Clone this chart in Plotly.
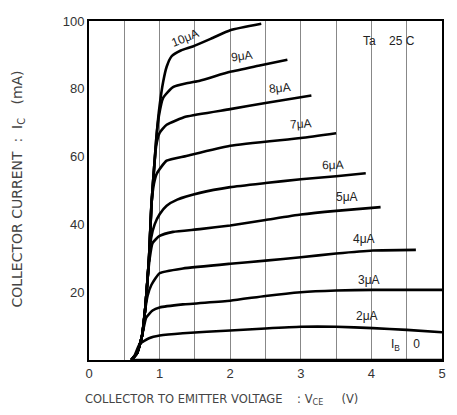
import plotly.graph_objects as go

# Base current labels
ib_labels = ["10μA", "9μA", "8μA", "7μA", "6μA", "5μA", "4μA", "3μA", "2μA"]

# Collector-emitter voltage (V) and collector current (mA) for each base current
vce_10 = [0.6, 0.68, 0.75, 0.8, 0.85, 0.885, 0.92, 0.956, 1.0, 1.05, 1.1, 1.17, 1.3, 1.47, 1.75, 2.0, 2.44]
ic_10 = [0, 2, 7, 16, 30, 46, 56, 66, 75, 82, 86.5, 89.6, 91.3, 92.5, 95, 97.3, 99.2]

vce_9 = [0.6, 0.68, 0.75, 0.8, 0.85, 0.885, 0.92, 0.956, 0.99, 1.05, 1.19, 1.4, 1.57, 2.0, 2.4, 2.81]
ic_9 = [0, 2, 7, 16, 30, 46, 56, 66, 72, 77.3, 80.5, 81.7, 82.4, 85, 86.8, 88.6]

vce_8 = [0.6, 0.68, 0.75, 0.8, 0.85, 0.885, 0.92, 0.95, 1.0, 1.1, 1.38, 2.0, 2.5, 3.15]
ic_8 = [0, 2, 7, 16, 30, 46, 56, 63, 67, 69.4, 71.8, 74, 75.8, 78]

vce_7 = [0.6, 0.68, 0.75, 0.8, 0.85, 0.885, 0.92, 0.96, 1.1, 1.38, 2.0, 3.0, 3.5]
ic_7 = [0, 2, 7, 16, 30, 46, 52, 55, 58.8, 60.2, 63.2, 65.5, 66.9]

vce_6 = [0.6, 0.68, 0.75, 0.8, 0.85, 0.88, 0.93, 1.0, 1.1, 1.25, 1.57, 2.0, 2.5, 3.0, 3.5, 3.92]
ic_6 = [0, 2, 7, 16, 30, 36, 40, 43, 45.5, 47.3, 49.3, 51, 52.2, 53.3, 54.2, 55.1]

vce_5 = [0.6, 0.68, 0.75, 0.8, 0.83, 0.86, 0.9, 1.0, 1.19, 1.57, 2.0, 2.5, 3.0, 3.5, 4.13]
ic_5 = [0, 2, 7, 16, 24, 30, 34.5, 36.6, 37.8, 38.6, 39.7, 41.3, 42.9, 44, 45.1]

vce_4 = [0.6, 0.68, 0.75, 0.79, 0.83, 0.885, 1.0, 1.33, 2.0, 2.5, 3.0, 3.5, 4.02, 4.63]
ic_4 = [0, 2, 7, 14, 19, 22.2, 25.6, 27, 28.4, 29.3, 30.3, 31.4, 32.3, 32.5]

vce_3 = [0.6, 0.68, 0.75, 0.81, 0.9, 1.0, 1.33, 2.0, 2.5, 3.0, 3.5, 4.02, 5.0]
ic_3 = [0, 2, 7, 12.5, 14.6, 15.5, 16.4, 17.5, 18.9, 20.0, 20.5, 20.7, 20.7]

vce_2 = [0.6, 0.65, 0.72, 0.85, 1.0, 1.33, 2.0, 2.5, 3.0, 3.5, 4.02, 4.5, 5.0]
ic_2 = [0, 1.5, 4.8, 6.4, 7.2, 7.9, 8.7, 9.3, 9.8, 9.8, 9.4, 8.9, 8.2]

vce_0 = [0.6, 5.0]
ic_0 = [0, 0]

curves_v = [vce_10, vce_9, vce_8, vce_7, vce_6, vce_5, vce_4, vce_3, vce_2, vce_0]
curves_i = [ic_10, ic_9, ic_8, ic_7, ic_6, ic_5, ic_4, ic_3, ic_2, ic_0]

# label anchor positions (data units)
label_v = [1.36, 2.17, 2.7, 3.0, 3.45, 3.66, 3.9, 3.97, 3.94]
label_i = [95.0, 89.6, 80.2, 69.6, 57.5, 48.2, 35.6, 23.6, 13.0]
label_angle = [-22, -8, -6, -4, -2, 0, 0, 0, 0]

x_ticks = [0, 1, 2, 3, 4, 5]
y_ticks = [20, 40, 60, 80, 100]

FONT = "Liberation Sans, Arial, sans-serif"

fig = go.Figure()
for v, i in zip(curves_v, curves_i):
    fig.add_trace(go.Scatter(x=v, y=i, mode="lines",
                             line=dict(color="black", width=2.6, shape="spline", smoothing=0.5),
                             showlegend=False, hoverinfo="skip"))

for lab, lv, li, ang in zip(ib_labels, label_v, label_i, label_angle):
    fig.add_annotation(x=lv, y=li, text=lab, showarrow=False, textangle=ang,
                       font=dict(size=12, color="#222", family=FONT))

fig.add_annotation(x=4.48, y=4.3, text="I<sub>B</sub>    0", showarrow=False,
                   font=dict(size=12, color="#222", family=FONT))
fig.add_annotation(x=4.25, y=94, text="Ta    25 C", showarrow=False,
                   font=dict(size=12, color="#222", family=FONT))

# axis titles
fig.add_annotation(xref="paper", yref="paper", x=-0.017, y=-0.116, xanchor="left", yanchor="middle",
                   text="COLLECTOR TO EMITTER VOLTAGE&nbsp;&nbsp;&nbsp;&nbsp;:&nbsp;V<sub>CE</sub>&nbsp;&nbsp;&nbsp;&nbsp;&nbsp;(V)",
                   showarrow=False, font=dict(size=11.5, color="#444", family="DejaVu Sans, sans-serif"))
fig.add_annotation(xref="paper", yref="paper", x=-0.201, y=0.503, xanchor="center", yanchor="middle",
                   text="COLLECTOR CURRENT&nbsp;&nbsp;:&nbsp;&nbsp;I<sub>C</sub>&nbsp;&nbsp;&nbsp;(mA)", textangle=-90,
                   showarrow=False, font=dict(size=14, color="#444", family="DejaVu Sans, sans-serif"))

fig.update_xaxes(range=[0, 5], tickvals=x_ticks, ticks="", showline=True, linecolor="black",
                 linewidth=2, mirror=True, showgrid=True, gridcolor="#888", gridwidth=1,
                 zeroline=False,
                 minor=dict(dtick=0.5, tick0=0, showgrid=True, gridcolor="#888", gridwidth=1),
                 tickfont=dict(size=13, color="#333"))
fig.update_yaxes(range=[0, 100], tickvals=y_ticks, ticks="", showline=True, linecolor="black",
                 linewidth=2, mirror=True, showgrid=False, zeroline=False,
                 tickfont=dict(size=13, color="#333"))

fig.update_layout(width=449, height=407, margin=dict(l=81, r=15, t=6, b=55),
                  plot_bgcolor="white", paper_bgcolor="white",
                  font=dict(family=FONT, color="#333"))
fig.write_html("out.html")
